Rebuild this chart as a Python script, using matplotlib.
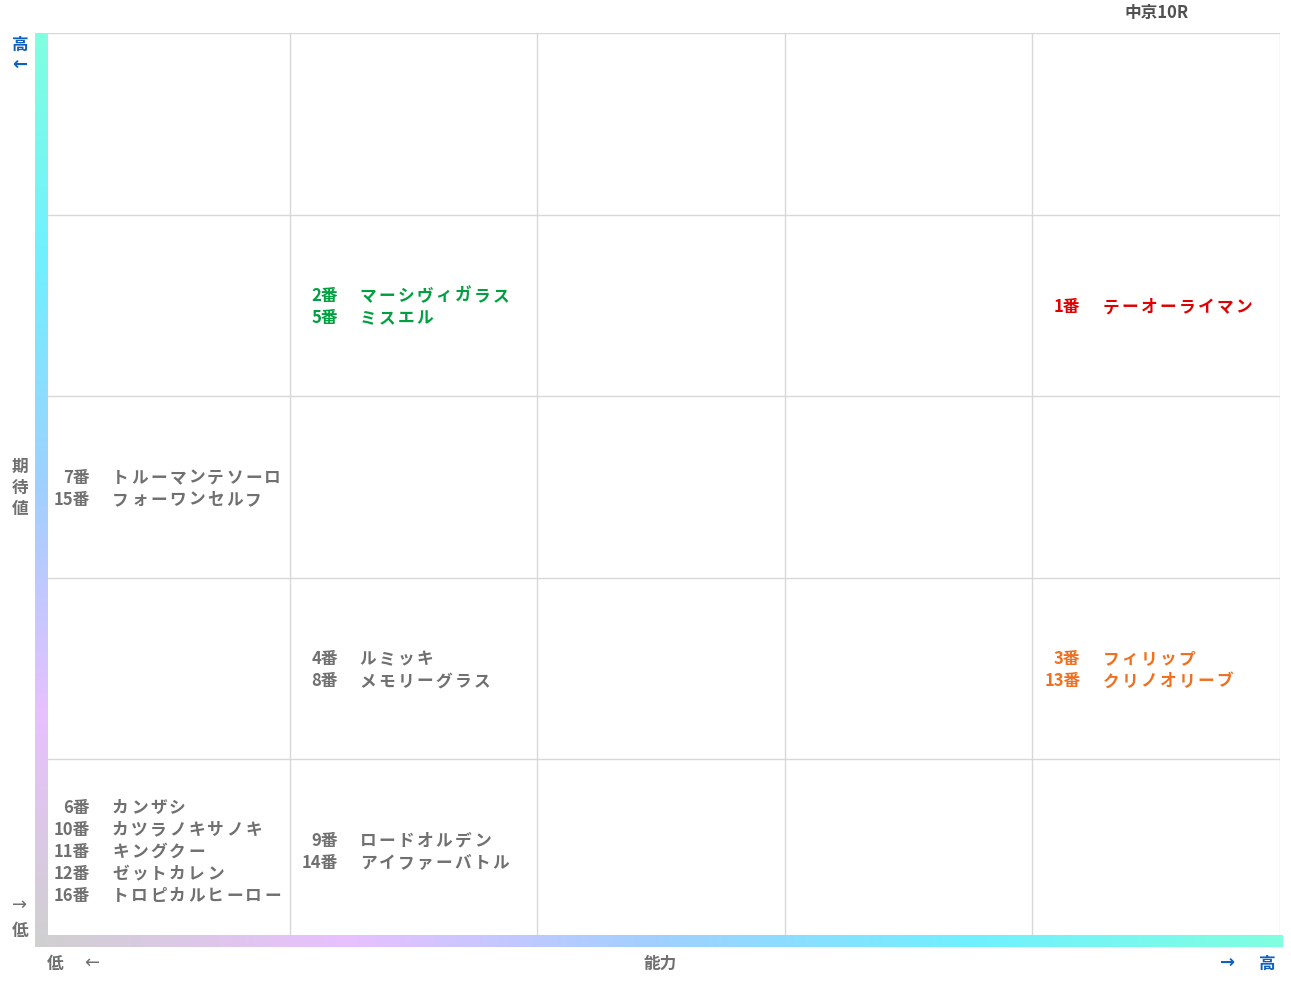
import matplotlib
matplotlib.use("Agg")
import matplotlib.pyplot as plt
import numpy as np
from matplotlib.colors import LinearSegmentedColormap

plt.rcParams['font.family'] = ['Noto Sans CJK JP', 'DejaVu Sans']

# cells: (col, row from bottom, color, [(num, name), ...])
cells = [
    (1, 3, '#00a040', [('2番', 'マーシヴィガラス'), ('5番', 'ミスエル')]),
    (4, 3, '#e00000', [('1番', 'テーオーライマン')]),
    (0, 2, '#707070', [('7番', 'トルーマンテソーロ'), ('15番', 'フォーワンセルフ')]),
    (1, 1, '#707070', [('4番', 'ルミッキ'), ('8番', 'メモリーグラス')]),
    (4, 1, '#f07020', [('3番', 'フィリップ'), ('13番', 'クリノオリーブ')]),
    (0, 0, '#707070', [('6番', 'カンザシ'), ('10番', 'カツラノキサノキ'), ('11番', 'キングクー'),
                       ('12番', 'ゼットカレン'), ('16番', 'トロピカルヒーロー')]),
    (1, 0, '#707070', [('9番', 'ロードオルデン'), ('14番', 'アイファーバトル')]),
]
title = '中京10R'

W, H = 1291, 983
fig = plt.figure(figsize=(W/100, H/100), dpi=100)
def fx(x): return x / W
def fy(y): return 1 - y / H

ax = fig.add_axes([fx(42), fy(941), fx(1280) - fx(42), fy(33) - fy(941)])
ax.set_xlim(0, 5); ax.set_ylim(0, 5)
for v in range(1, 6):
    ax.axvline(v, color='#d8d8d8', lw=1)
    ax.axhline(v, color='#d8d8d8', lw=1)
ax.set_xticks([]); ax.set_yticks([])
for s in ax.spines.values():
    s.set_visible(False)

step = 0.121
pitch = 19 / 247.6
for col, row, c, items in cells:
    n = len(items)
    y0 = row + 0.49 + (n - 1) * step / 2
    for i, (num, name) in enumerate(items):
        y = y0 - i * step
        ax.text(col + 0.194, y, num, ha='right', va='center', color=c, fontsize=12, fontweight='bold')
        for k, ch in enumerate(name):
            ax.text(col + 0.283 + k * pitch, y, ch, ha='left', va='center',
                    color=c, fontsize=12, fontweight='bold')

cmap = LinearSegmentedColormap.from_list('g', ['#d0d0d0', '#e8c0ff', '#a0d0ff', '#70f0ff', '#80ffe0'])
grad = np.linspace(0, 1, 256)
axv = fig.add_axes([fx(35), fy(943), fx(48) - fx(35), fy(33) - fy(943)])
axv.imshow(grad[:, None], aspect='auto', cmap=cmap, origin='lower')
axv.axis('off')
axh = fig.add_axes([fx(35), fy(947), fx(1283) - fx(35), fy(935) - fy(947)])
axh.imshow(grad[None, :], aspect='auto', cmap=cmap)
axh.axis('off')

blue = '#1060c0'; gray = '#707070'
fig.text(fx(1157), fy(13), title, ha='center', va='center', color='#505050', fontsize=12, fontweight='bold')
fig.text(fx(20), fy(45), '高', ha='center', va='center', color=blue, fontsize=12, fontweight='bold')
fig.text(fx(20), fy(65), '←', ha='center', va='center', color=blue, fontsize=13, fontweight='bold', family='DejaVu Sans')
fig.text(fx(20), fy(488), '期\n待\n値', ha='center', va='center', color=gray, fontsize=12, fontweight='bold', linespacing=1.2)
fig.text(fx(20), fy(905), '→', ha='center', va='center', color=gray, fontsize=13, family='DejaVu Sans')
fig.text(fx(20), fy(931), '低', ha='center', va='center', color=gray, fontsize=12, fontweight='bold')
fig.text(fx(55), fy(964), '低', ha='center', va='center', color=gray, fontsize=12, fontweight='bold')
fig.text(fx(92), fy(963), '←', ha='center', va='center', color=gray, fontsize=13, family='DejaVu Sans')
fig.text(fx(660), fy(964), '能力', ha='center', va='center', color=gray, fontsize=12, fontweight='bold')
fig.text(fx(1228), fy(963), '→', ha='center', va='center', color=blue, fontsize=13, fontweight='bold', family='DejaVu Sans')
fig.text(fx(1267), fy(964), '高', ha='center', va='center', color=blue, fontsize=12, fontweight='bold')

fig.savefig('out.png', dpi=100)
